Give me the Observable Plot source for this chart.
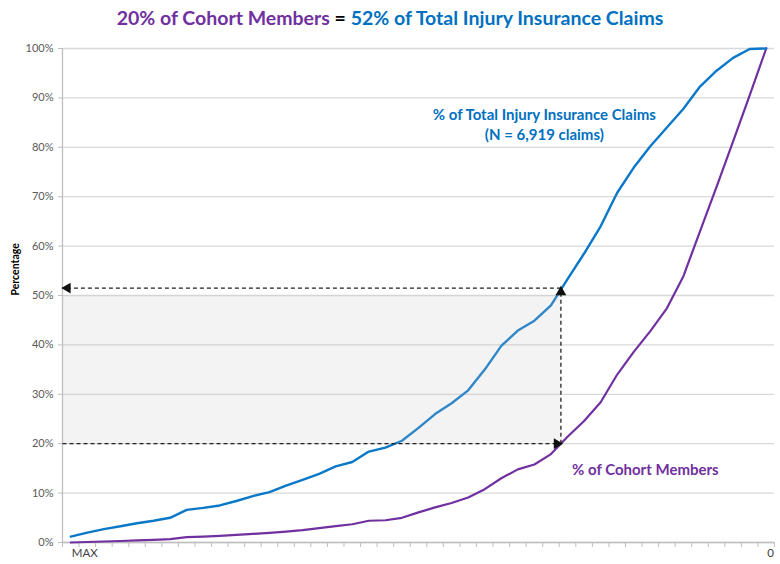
<!DOCTYPE html>
<html><head><meta charset="utf-8">
<script src="https://cdn.jsdelivr.net/npm/d3@7"></script>
<script src="https://cdn.jsdelivr.net/npm/@observablehq/plot@0.6"></script>
<style>
body{margin:0;background:#fff;font-family:Lato,"Open Sans",sans-serif;}
#title{height:34px;line-height:35px;text-align:center;font-size:19.5px;font-weight:bold;white-space:pre;}
</style></head><body>
<div id="title"><span style="color:#7030a0">20% of Cohort Members</span> <span style="color:#000">=</span> <span style="color:#0070c0">52% of Total Injury Insurance Claims</span></div>
<div id="chart"></div>
<script>
// % of Total Injury Insurance Claims (cumulative), from MAX to 0
const claimsPct = [1.2, 2.0, 2.7, 3.3, 3.9, 4.4, 5.0, 6.6, 7.0, 7.5, 8.4, 9.4, 10.2, 11.5, 12.7, 13.9, 15.4, 16.3, 18.4, 19.2, 20.6, 23.2, 26.0, 28.2, 30.8, 35.0, 39.8, 42.9, 44.9, 48.0, 53.3, 58.5, 64.0, 70.8, 75.9, 80.2, 84.0, 87.8, 92.3, 95.5, 98.1, 99.9, 100];
// % of Cohort Members (cumulative)
const cohortPct = [0.0, 0.1, 0.2, 0.3, 0.45, 0.55, 0.7, 1.1, 1.2, 1.35, 1.55, 1.75, 1.95, 2.2, 2.5, 2.9, 3.3, 3.7, 4.4, 4.5, 5.0, 6.1, 7.1, 8.0, 9.1, 10.8, 13.0, 14.8, 15.8, 17.9, 21.4, 24.6, 28.4, 34.0, 38.6, 42.8, 47.4, 53.9, 63.0, 72.0, 81.2, 90.5, 100];
const xLabels = ["MAX", "0"];
const yTicks = [0, 10, 20, 30, 40, 50, 60, 70, 80, 90, 100];
// annotation values
const cohortShare = 20;     // % of cohort members
const claimsShare = 51.5;   // % of claims at the same point
const crossIndex = 29.6;    // where the cohort curve reaches 20%
const shadeTop = 50;

const n = claimsPct.length;
const data = claimsPct.map((v, i) => ({i, claims: v, cohort: cohortPct[i]}));
const boundaries = d3.range(n + 1).map(k => k - 0.5);
const labelTicks = [0, n - 1];

const segs = [
  {x1: -0.5, y1: cohortShare, x2: crossIndex, y2: cohortShare},
  {x1: crossIndex, y1: cohortShare, x2: crossIndex, y2: claimsShare},
  {x1: crossIndex, y1: claimsShare, x2: -0.5, y2: claimsShare}
];

const chart = Plot.plot({
  width: 780, height: 530,
  marginTop: 14, marginBottom: 22, marginLeft: 62, marginRight: 6,
  x: {domain: [-0.5, n - 0.5], axis: null},
  y: {domain: [0, 100], axis: null},
  style: {fontFamily: "Lato, 'Open Sans', sans-serif", background: "#fff", overflow: "visible"},
  marks: [
    Plot.gridY(yTicks, {stroke: "#d9d9d9", strokeOpacity: 1, strokeWidth: 1.3}),
    Plot.ruleX([-0.5], {stroke: "#bfbfbf", strokeWidth: 1.3}),
    Plot.ruleY([0], {stroke: "#bfbfbf", strokeWidth: 1.3}),
    Plot.axisX({ticks: boundaries, tickSize: 5, tickFormat: () => "", stroke: "#bfbfbf", label: null}),
    Plot.axisX({ticks: labelTicks, tickSize: 0, tickPadding: 6, tickFormat: (d) => xLabels[labelTicks.indexOf(d)], textAnchor: "start", dx: 1, fontSize: 11.5, fill: "#404040", label: null}),
    Plot.axisY({ticks: yTicks, tickSize: 4, tickPadding: 5, tickFormat: d => d + "%", stroke: "#bfbfbf", fill: "#595959", fontSize: 11, label: null}),
    Plot.text(["Percentage"], {frameAnchor: "left", rotate: -90, dx: -47, fontWeight: "bold", fontSize: 10.5, fill: "#000"}),
    Plot.line(data, {x: "i", y: "cohort", stroke: "#7030a0", strokeWidth: 2.2}),
    Plot.line(data, {x: "i", y: "claims", stroke: "#0a78c8", strokeWidth: 2.4}),
    Plot.rect([{}], {x1: -0.5, x2: crossIndex, y1: cohortShare, y2: shadeTop, fill: "#c4c4c4", fillOpacity: 0.2}),
    Plot.link(segs, {x1: "x1", y1: "y1", x2: "x2", y2: "y2", stroke: "#222", strokeWidth: 1.3, strokeDasharray: "4,3"}),
    Plot.dot([{x: crossIndex, y: cohortShare}], {x: "x", y: "y", symbol: "triangle", r: 4, fill: "#111", stroke: null, rotate: 90, dx: -4}),
    Plot.dot([{x: crossIndex, y: claimsShare}], {x: "x", y: "y", symbol: "triangle", r: 4, fill: "#111", stroke: null, rotate: 0, dy: 4}),
    Plot.dot([{x: -0.5, y: claimsShare}], {x: "x", y: "y", symbol: "triangle", r: 4, fill: "#111", stroke: null, rotate: -90, dx: 5}),
    Plot.text(["% of Total Injury Insurance Claims\n(N = 6,919 claims)"], {x: 28.6, y: 84.8, fill: "#0070c0", fontWeight: "bold", fontSize: 15, lineHeight: 1.35}),
    Plot.text(["% of Cohort Members"], {x: 34.7, y: 14.6, fill: "#7030a0", fontWeight: "bold", fontSize: 15})
  ]
});
document.getElementById("chart").appendChild(chart);
</script>
</body></html>
